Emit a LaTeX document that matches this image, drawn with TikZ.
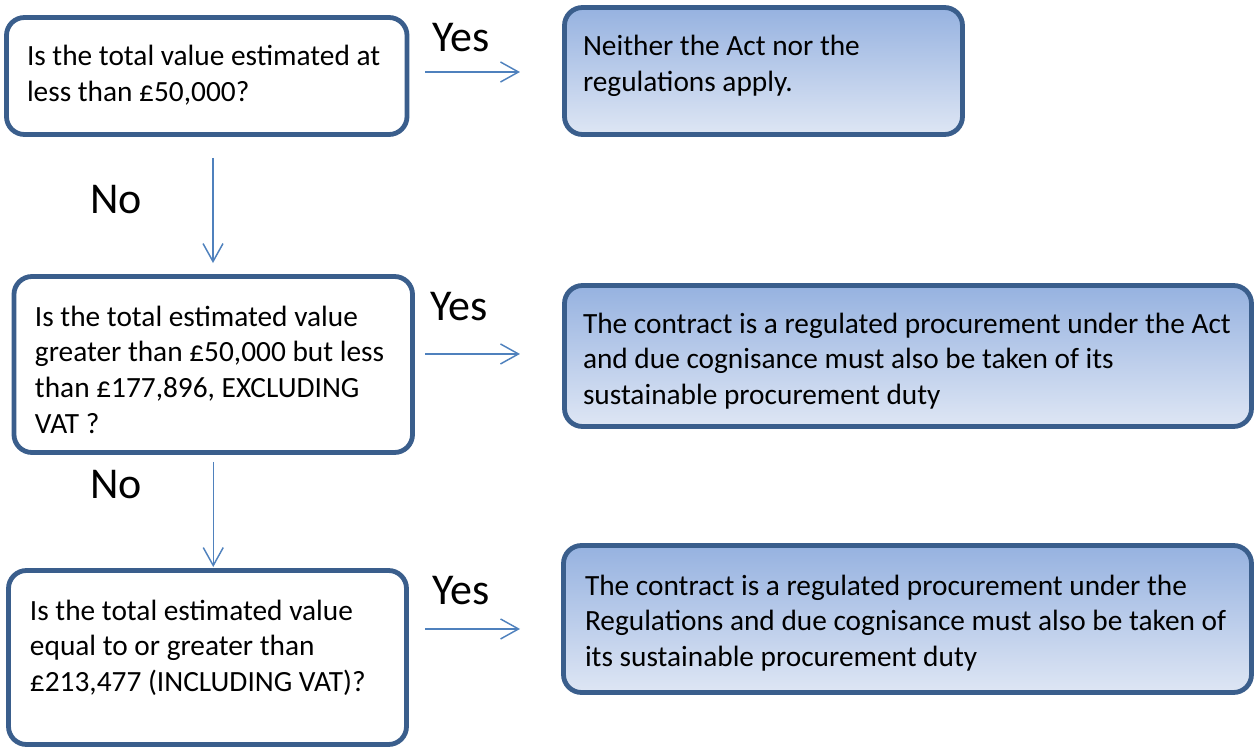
\documentclass[tikz,border=0pt]{standalone}
\usepackage{fontspec}
\setmainfont{Carlito}
\usetikzlibrary{arrows.meta}
\definecolor{boxline}{RGB}{58,94,140}
\definecolor{arrowc}{RGB}{79,129,189}
\definecolor{gradtop}{RGB}{150,178,224}
\definecolor{gradbot}{RGB}{222,230,244}
\tikzset{
  qbox/.style={draw=boxline, line width=3.6pt, rounded corners=13.5pt, inner sep=0pt, outer sep=0pt, fill=white},
  abox/.style={qbox, top color=gradtop, bottom color=gradbot},
  body/.style={inner sep=0pt, outer sep=0pt, anchor=north west, align=left, font=\fontsize{22}{26.8}\selectfont, text=black},
  lbl/.style={inner sep=0pt, anchor=base west, font=\fontsize{33}{40}\selectfont, text=black},
  arr/.style={draw=arrowc, line width=1.1pt, -{Straight Barb[length=13.5pt, width=15pt, line width=1.1pt]}}
}
\begin{document}
\begin{tikzpicture}[x=0.75pt, y=-0.75pt]
\useasboundingbox (0,0) rectangle (1254,749);
% boxes
\node[qbox, minimum width=300.4pt, minimum height=87.75pt] (A) at (206.75,76) {};
\node[abox, minimum width=298.5pt, minimum height=95.25pt] (B) at (763.5,71) {};
\node[qbox, minimum width=298.9pt, minimum height=132pt] (C) at (213.25,364.5) {};
\node[abox, minimum width=515.25pt, minimum height=105.75pt] (D) at (908,356) {};
\node[qbox, minimum width=298.5pt, minimum height=130.5pt] (E) at (207.5,657.5) {};
\node[abox, minimum width=516pt, minimum height=110.25pt] (F) at (907.5,619) {};
% texts
\node[body] (tA) at (27,40.5) {\strut Is the total value estimated at\\less than £50,000?};
\node[body] (tB) at (583,30.5) {\strut Neither the Act nor the\\regulations apply.};
\node[body] (tC) at (35,301) {\strut Is the total estimated value\\greater than £50,000 but less\\than £177,896, EXCLUDING\\VAT ?};
\node[body] (tD) at (583,308) {\strut The contract is a regulated procurement under the Act\\and due cognisance must also be taken of its\\sustainable procurement duty};
\node[body] (tE) at (30,595) {\strut Is the total estimated value\\equal to or greater than\\£213,477 (INCLUDING VAT)?};
\node[body] (tF) at (585,570) {\strut The contract is a regulated procurement under the\\Regulations and due cognisance must also be taken of\\its sustainable procurement duty};
% labels
\node[lbl] (y1) at (432,52) {Yes};
\node[lbl] (y2) at (430,320) {Yes};
\node[lbl] (y3) at (432,604) {Yes};
\node[lbl] (n1) at (90,213) {No};
\node[lbl] (n2) at (90,498) {No};
% connectors
\draw[arr, shorten <=13.5pt, shorten >=33.4pt] ([yshift=3pt]A.east) -- ([yshift=3pt]A.east -| B.west);
\draw[arr, shorten <=9.4pt, shorten >=33.4pt] ([yshift=7.9pt]C.east) -- ([yshift=7.9pt]C.east -| D.west);
\draw[arr, shorten <=13.9pt, shorten >=32.6pt] ([yshift=21.4pt]E.east) -- ([yshift=21.4pt]E.east -| F.west);
\draw[arr, shorten <=17.6pt, shorten >=10.1pt] ([xshift=4.7pt]A.south) -- ([xshift=4.7pt]A.south |- C.north);
\draw[arr, shorten <=7.1pt, shorten >=2.6pt] ([xshift=0pt]C.south) -- ([xshift=0pt]C.south |- E.north);
\end{tikzpicture}
\end{document}
